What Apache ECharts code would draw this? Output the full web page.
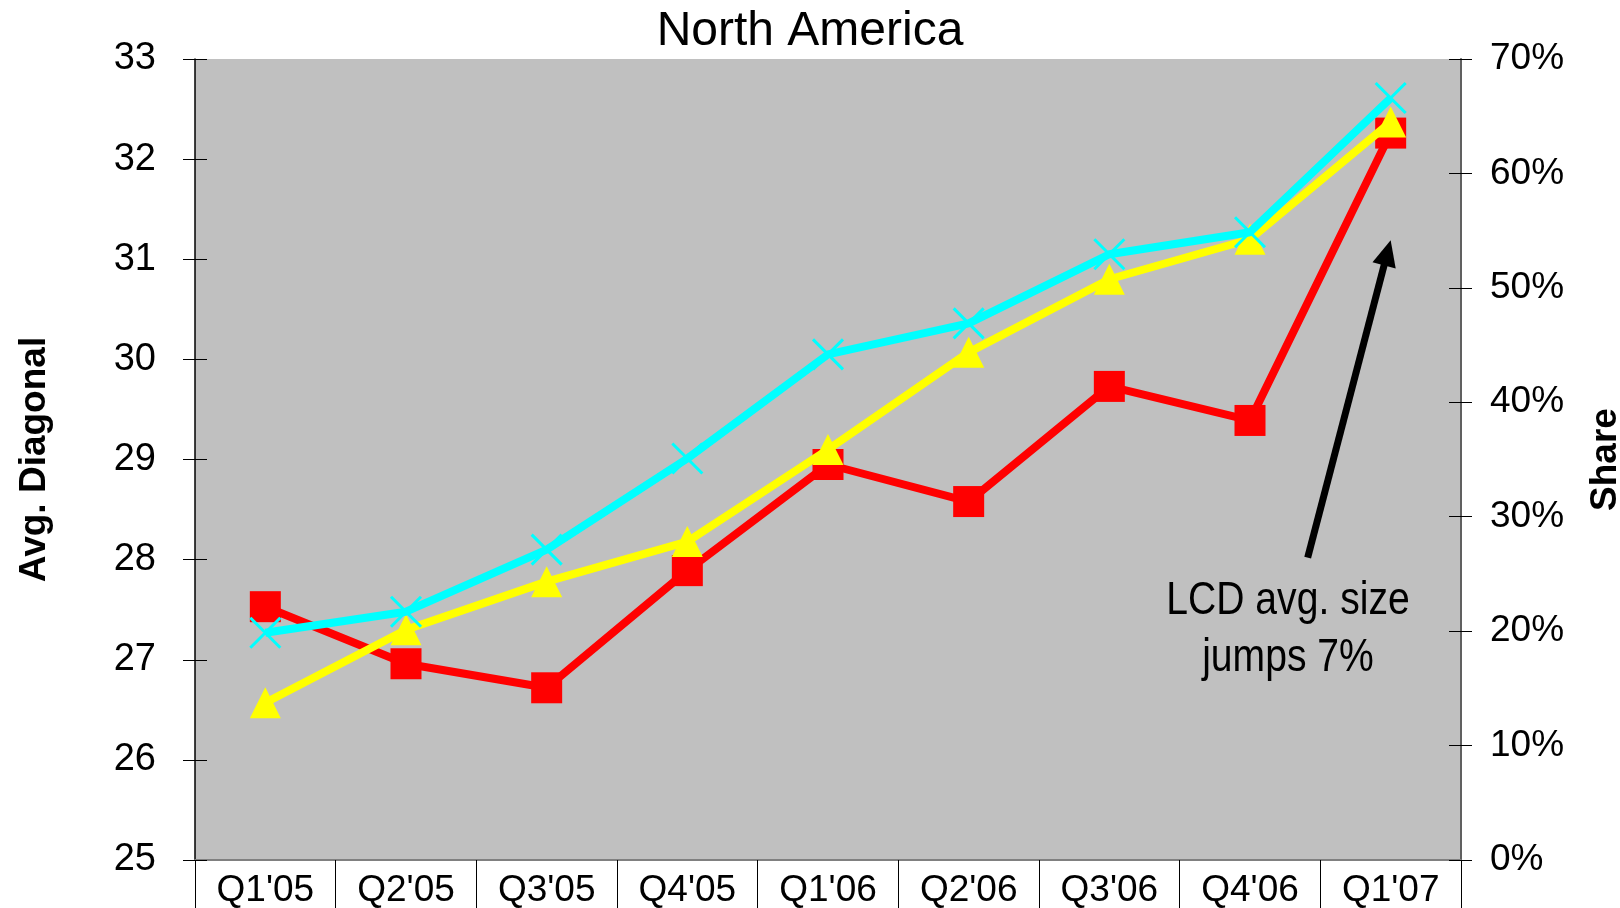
<!DOCTYPE html>
<html>
<head>
<meta charset="utf-8">
<script src="https://cdn.jsdelivr.net/npm/echarts@6/dist/echarts.min.js"></script>
<style>
  html, body { margin: 0; padding: 0; background: #ffffff; }
  #chart { width: 1620px; height: 908px; }
</style>
</head>
<body>
<div id="chart"></div>
<script>
// Quarterly labels along the category axis
const categories = ["Q1'05", "Q2'05", "Q3'05", "Q4'05", "Q1'06", "Q2'06", "Q3'06", "Q4'06", "Q1'07"];

// Average diagonal (inches) per quarter, one array per line
const diagonalRed    = [27.53, 26.96, 26.72, 27.89, 28.95, 28.58, 29.73, 29.39, 32.26];
const diagonalYellow = [26.57, 27.30, 27.78, 28.18, 29.10, 30.07, 30.80, 31.20, 32.37];
const diagonalCyan   = [27.27, 27.48, 28.10, 29.01, 30.05, 30.36, 31.05, 31.27, 32.61];

// Axis ranges
const diagonalMin = 25, diagonalMax = 33, diagonalStep = 1;
const shareMin = 0, shareMax = 0.7, shareStep = 0.1;

// Callout text and where its arrow points (category index, diagonal value)
const noteLines = ['LCD avg. size', 'jumps 7%'];
const noteAnchor = [7.27, 27.30];
const arrowFrom = [7.41, 28.02];
const arrowTo = [8.0, 31.19];

const FONT = "'Liberation Sans', Arial, Helvetica, sans-serif";
const NARROW = "'Liberation Sans Narrow', 'Arial Narrow', 'Liberation Sans', sans-serif";

const chart = echarts.init(document.getElementById('chart'), null, { renderer: 'canvas' });

const crossSymbol = 'path://M0,0L20,20M20,0L0,20';

const valueAxisBase = {
  type: 'value',
  splitLine: { show: false },
  axisLine: { show: false },
  axisLabel: { show: false }
};

const option = {
  animation: false,
  backgroundColor: '#ffffff',
  title: {
    text: 'North America',
    left: 'center',
    top: 3,
    padding: [5, 20, 5, 5],
    textStyle: { fontFamily: FONT, fontSize: 48, fontWeight: 'normal', color: '#000000' }
  },
  grid: {
    left: 195, right: 159, top: 59, bottom: 48,
    show: true, backgroundColor: '#C0C0C0', borderWidth: 0,
    outerBoundsMode: 'none', containLabel: false
  },
  xAxis: [
    {
      type: 'category', data: categories, position: 'bottom', boundaryGap: true,
      axisLine: { show: true, lineStyle: { color: '#000000', width: 1.5 } },
      axisTick: { show: true, length: 60, interval: 0, lineStyle: { color: '#000000', width: 1 } },
      axisLabel: { fontFamily: FONT, fontSize: 37, color: '#000000', margin: 12, interval: 0 },
      splitLine: { show: false }
    },
    {
      type: 'category', data: categories, position: 'top',
      axisLine: { show: true, lineStyle: { color: '#808080', width: 2 } },
      axisTick: { show: false }, axisLabel: { show: false }, splitLine: { show: false }
    }
  ],
  yAxis: [
    {
      type: 'value', min: diagonalMin, max: diagonalMax, interval: diagonalStep, position: 'left', offset: 0,
      name: 'Avg. Diagonal', nameLocation: 'middle', nameRotate: 90, nameGap: 142,
      nameTextStyle: { fontFamily: FONT, fontSize: 37, fontWeight: 'bold', color: '#000000' },
      axisLine: { show: true, lineStyle: { color: '#000000', width: 1.5 } },
      axisTick: { show: true, length: 12, lineStyle: { color: '#000000', width: 1 } },
      axisLabel: { fontFamily: FONT, fontSize: 38, color: '#000000', margin: 39 },
      splitLine: { show: false }
    },
    {
      type: 'value', min: shareMin, max: shareMax, interval: shareStep, position: 'right', offset: 0,
      name: 'Share', nameLocation: 'middle', nameRotate: 90, nameGap: 126,
      nameTextStyle: { fontFamily: FONT, fontSize: 37, fontWeight: 'bold', color: '#000000' },
      axisLine: { show: true, lineStyle: { color: '#606060', width: 2 } },
      axisTick: { show: true, length: 11, lineStyle: { color: '#000000', width: 1 } },
      axisLabel: {
        fontFamily: FONT, fontSize: 37, color: '#000000', margin: 29,
        formatter: v => Math.round(v * 100) + '%'
      },
      splitLine: { show: false }
    },
    Object.assign({}, valueAxisBase, {
      min: diagonalMin, max: diagonalMax, interval: diagonalStep, position: 'left', offset: 0,
      axisTick: { show: true, inside: true, length: 12, lineStyle: { color: '#000000', width: 1 } }
    }),
    Object.assign({}, valueAxisBase, {
      min: shareMin, max: shareMax, interval: shareStep, position: 'right', offset: 0,
      axisTick: { show: true, inside: true, length: 12, lineStyle: { color: '#000000', width: 1 } }
    })
  ],
  series: [
    {
      name: 'Series 1', type: 'line', data: diagonalRed, xAxisIndex: 0, yAxisIndex: 0,
      symbol: 'rect', symbolSize: 31, showAllSymbol: true,
      lineStyle: { color: '#FF0000', width: 8 },
      itemStyle: { color: '#FF0000' },
      emphasis: { disabled: true }, silent: true, z: 2
    },
    {
      name: 'Series 2', type: 'line', data: diagonalYellow, xAxisIndex: 0, yAxisIndex: 0,
      symbol: 'triangle', symbolSize: 31, showAllSymbol: true,
      lineStyle: { color: '#FFFF00', width: 8 },
      itemStyle: { color: '#FFFF00' },
      emphasis: { disabled: true }, silent: true, z: 3
    },
    {
      name: 'Series 3', type: 'line', data: diagonalCyan, xAxisIndex: 0, yAxisIndex: 0,
      symbol: crossSymbol, symbolSize: 30, showAllSymbol: true,
      lineStyle: { color: '#00FFFF', width: 8 },
      itemStyle: { color: 'transparent', borderColor: '#00FFFF', borderWidth: 3 },
      emphasis: { disabled: true }, silent: true, z: 4
    }
  ]
};

chart.setOption(option);

// Convert (fractional category index, diagonal value) to pixels
function toPixel(idx, val) {
  const p0 = chart.convertToPixel({ xAxisIndex: 0, yAxisIndex: 0 }, [0, val]);
  const p1 = chart.convertToPixel({ xAxisIndex: 0, yAxisIndex: 0 }, [1, val]);
  return [p0[0] + idx * (p1[0] - p0[0]), p0[1]];
}

const tail = toPixel(arrowFrom[0], arrowFrom[1]);
const tip = toPixel(arrowTo[0], arrowTo[1]);
const dx = tip[0] - tail[0], dy = tip[1] - tail[1];
const len = Math.sqrt(dx * dx + dy * dy);
const ux = dx / len, uy = dy / len;
const headLen = 26, headHalf = 12;
const base = [tip[0] - ux * headLen, tip[1] - uy * headLen];
const nx = -uy, ny = ux;
const notePos = toPixel(noteAnchor[0], noteAnchor[1]);

chart.setOption({
  graphic: [
    {
      type: 'line', silent: true, z: 100,
      shape: { x1: tail[0], y1: tail[1], x2: base[0] + ux * 2, y2: base[1] + uy * 2 },
      style: { stroke: '#000000', lineWidth: 7 }
    },
    {
      type: 'polygon', silent: true, z: 100,
      shape: {
        points: [
          tip,
          [base[0] + nx * headHalf, base[1] + ny * headHalf],
          [base[0] - nx * headHalf, base[1] - ny * headHalf]
        ]
      },
      style: { fill: '#000000' }
    },
    {
      type: 'text', silent: true, z: 100,
      x: notePos[0], y: notePos[1],
      scaleX: 0.85,
      style: {
        text: noteLines.join('\n'),
        fontFamily: NARROW, fontSize: 46, lineHeight: 57,
        fill: '#000000', align: 'center', verticalAlign: 'middle'
      }
    }
  ]
});
</script>
</body>
</html>
